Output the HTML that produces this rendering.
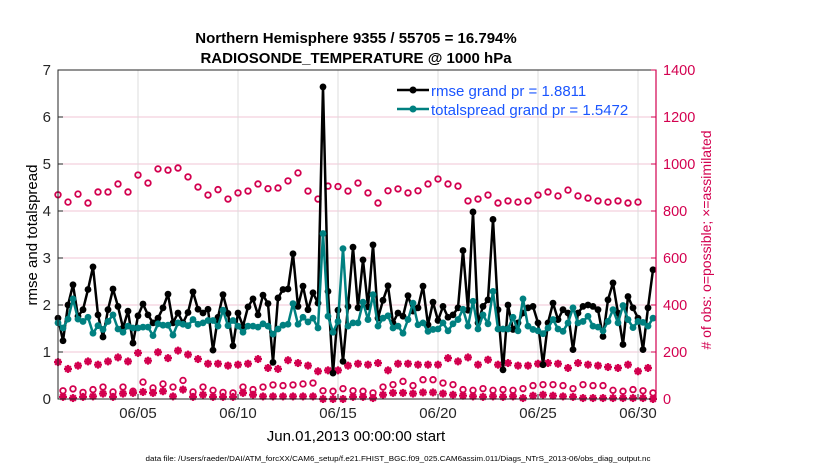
<!DOCTYPE html>
<html><head><meta charset="utf-8"><style>
body{margin:0;background:#fff;}
svg text{font-family:"Liberation Sans",Arial,sans-serif;}
</style></head><body>
<svg id="chart" width="830" height="470" viewBox="0 0 830 470" xmlns="http://www.w3.org/2000/svg">
<rect width="830" height="470" fill="#fff"/>
<g id="grid"></g>
<g id="series"></g>
<g id="axes"></g>
<text x="356" y="43" text-anchor="middle" font-size="15" font-weight="bold">Northern Hemisphere 9355 / 55705 = 16.794%</text>
<text x="356" y="63" text-anchor="middle" font-size="15" font-weight="bold">RADIOSONDE_TEMPERATURE @ 1000 hPa</text>
<text transform="translate(37,235) rotate(-90)" text-anchor="middle" font-size="15">rmse and totalspread</text>
<text transform="translate(711,240) rotate(-90)" text-anchor="middle" font-size="14" fill="#d3004f"># of obs: o=possible; ×=assimilated</text>
<text x="356" y="441" text-anchor="middle" font-size="15">Jun.01,2013 00:00:00 start</text>
<text x="398" y="461" text-anchor="middle" font-size="7.5" textLength="505" lengthAdjust="spacingAndGlyphs">data file: /Users/raeder/DAI/ATM_forcXX/CAM6_setup/f.e21.FHIST_BGC.f09_025.CAM6assim.011/Diags_NTrS_2013-06/obs_diag_output.nc</text>
<g>
<line x1="397" y1="90" x2="429" y2="90" stroke="#000" stroke-width="2.5"/><circle cx="413" cy="90" r="3.5" fill="#000"/>
<text x="431" y="96" font-size="15" fill="#1a55ff">rmse grand pr = 1.8811</text>
<line x1="397" y1="109" x2="429" y2="109" stroke="#008080" stroke-width="2.5"/><circle cx="413" cy="109" r="3.5" fill="#008080"/>
<text x="431" y="115" font-size="15" fill="#1a55ff">totalspread grand pr = 1.5472</text>
</g>
</svg>
<script>
const rmse=[1.72,1.24,2.0,2.43,1.76,1.9,2.33,2.81,1.79,1.32,1.9,2.34,1.97,1.51,1.87,1.19,1.77,2.02,1.79,1.62,1.72,1.94,2.23,1.62,1.83,1.62,1.84,2.28,1.91,1.83,1.91,1.04,1.74,2.22,1.82,1.13,1.83,1.55,1.96,2.13,1.79,2.21,2.03,0.78,2.15,2.33,2.34,3.09,1.97,2.4,1.9,2.26,2.04,6.64,2.29,0.55,1.89,0.8,1.97,3.23,1.94,
2.96,1.96,3.28,1.72,2.1,2.41,1.62,1.83,1.76,2.2,1.87,1.94,2.4,1.58,2.06,1.67,1.97,1.74,1.79,1.94,3.16,1.89,3.98,1.62,1.97,2.11,3.82,1.9,
0.62,2.0,1.48,1.62,1.83,1.94,1.97,1.62,0.73,1.62,2.04,1.69,1.9,1.83,1.05,1.83,1.97,2.0,1.97,1.9,1.33,2.11,2.47,1.83,1.16,2.18,1.94,1.72,1.05,1.94,2.75];
const spread=[1.62,1.51,1.70,2.13,1.70,1.65,1.74,1.40,1.56,1.48,1.65,1.79,1.49,1.42,1.55,1.51,1.51,1.53,1.53,1.35,1.60,1.57,1.57,1.36,1.62,1.59,1.56,1.69,1.59,1.62,1.67,1.67,1.55,1.89,1.56,1.67,1.55,1.42,1.55,1.55,1.53,1.60,1.55,1.38,1.49,1.57,1.59,2.03,1.59,1.74,1.64,1.72,1.51,3.52,1.76,1.42,1.65,3.20,1.55,1.62,1.62,
2.06,1.69,2.22,1.55,1.72,1.77,1.51,1.55,1.40,1.69,2.04,1.58,1.62,1.44,1.48,1.49,1.62,1.45,1.60,1.69,1.91,1.55,2.08,1.49,1.79,1.60,2.29,1.49,1.49,1.49,1.74,1.45,2.13,1.55,1.48,1.45,1.39,1.51,1.69,1.49,1.44,1.62,1.94,1.62,1.65,1.76,1.55,1.53,1.45,1.65,1.90,1.62,1.99,1.69,1.52,1.65,1.63,1.55,1.72];
const possibleEven=[869,838,872,834,881,881,915,881,953,919,979,974,983,945,902,868,891,851,877,885,915,895,898,928,962,885,851,906,904,885,919,
877,834,886,894,877,886,915,936,915,906,843,851,868,834,843,838,843,868,881,864,889,864,855,843,838,843,834,838];
const possibleOdd=[35,43,28,40,51,30,51,33,72,47,64,51,79,30,51,37,28,26,51,40,51,60,57,60,64,68,35,33,44,35,
33,26,51,61,75,57,82,82,68,61,40,37,44,37,40,37,44,57,61,61,57,44,61,57,57,37,33,40,35,26];
const assimEven=[157,128,142,160,146,160,177,160,196,163,199,174,206,189,170,150,150,142,146,150,170,132,128,165,153,142,118,122,122,142,150,
146,153,122,150,150,146,146,146,174,160,177,146,167,146,153,142,142,150,153,150,132,153,146,142,136,132,146,118,132];
const assimOdd=[9,4,9,11,23,9,23,26,30,26,33,11,40,9,18,9,9,9,26,18,11,11,11,11,11,11,0,0,0,9,
9,4,18,26,26,23,28,28,23,18,14,11,9,11,9,11,4,14,18,14,11,9,4,4,4,4,4,4,4,0];
const xTickDays=[5,10,15,20,25,30];
const xTickLabels=["06/05","06/10","06/15","06/20","06/25","06/30"];
const yLeftTicks=[0,1,2,3,4,5,6,7];
const yRightTicks=[0,200,400,600,800,1000,1200,1400];

const L=58,R=656,T=70,B=399;
const xOfT=t=>L+t*20;
const xOfI=i=>xOfT(i*0.25);
const yL=v=>B-(v/7)*(B-T);
const yR=c=>B-(c/1400)*(B-T);
const NS="http://www.w3.org/2000/svg";
function mk(tag,attrs,parent){const e=document.createElementNS(NS,tag);for(const k in attrs)e.setAttribute(k,attrs[k]);parent.appendChild(e);return e;}
const grid=document.getElementById('grid'),ser=document.getElementById('series'),ax=document.getElementById('axes');
const PINK="#d3004f";

yRightTicks.forEach(c=>{if(c>0&&c<1400){const g=mk('line',{x1:L,x2:R,y1:yR(c),y2:yR(c),stroke:'#f2c6d6','stroke-width':1},grid);

}});
xTickDays.forEach(d=>{const g=mk('line',{x1:xOfT(d-1),x2:xOfT(d-1),y1:T,y2:B,stroke:'#dcdcdc','stroke-width':1},grid);

});

function circ(i,c){const e=mk('circle',{cx:xOfI(i),cy:yR(c),r:2.8,fill:'none',stroke:PINK,'stroke-width':1.8},ser);

}
possibleEven.forEach((c,k)=>circ(2*k,c));
possibleOdd.forEach((c,k)=>circ(2*k+1,c));
function star(i,c){const x=xOfI(i),y=yR(c),s=4;const g=mk('g',{stroke:PINK,'stroke-width':2.2},ser);


mk('line',{x1:x-s,x2:x+s,y1:y,y2:y},g);mk('line',{x1:x,x2:x,y1:y-s,y2:y+s},g);
mk('line',{x1:x-s*0.7,x2:x+s*0.7,y1:y-s*0.7,y2:y+s*0.7},g);mk('line',{x1:x-s*0.7,x2:x+s*0.7,y1:y+s*0.7,y2:y-s*0.7},g);}
assimEven.forEach((c,k)=>star(2*k,c));
assimOdd.forEach((c,k)=>star(2*k+1,c));

function line(arr,color,name){const p=mk('polyline',{points:arr.map((v,i)=>xOfI(i)+','+yL(v)).join(' '),fill:'none',stroke:color,'stroke-width':2.5,'stroke-linejoin':'round'},ser);


arr.forEach((v,i)=>{const c=mk('circle',{cx:xOfI(i),cy:yL(v),r:3.4,fill:color},ser);

});}
line(rmse,'#000','rmse');
line(spread,'#008080','totalspread');

const fr=mk('rect',{x:L,y:T,width:R-L,height:B-T,fill:'none',stroke:'#262626','stroke-width':1},ax);


const ra=mk('line',{x1:R,x2:R,y1:T,y2:B,stroke:PINK,'stroke-width':1.2},ax);


yLeftTicks.forEach(v=>{mk('line',{x1:L,x2:L+5,y1:yL(v),y2:yL(v),stroke:'#262626'},ax);
const t=mk('text',{x:L-7,y:yL(v)+5,'text-anchor':'end','font-size':15,fill:'#262626'},ax);t.textContent=v;

});
yRightTicks.forEach(c=>{mk('line',{x1:R-5,x2:R,y1:yR(c),y2:yR(c),stroke:PINK},ax);
const t=mk('text',{x:R+7,y:yR(c)+5,'font-size':14.5,fill:PINK},ax);t.textContent=c;

});
xTickDays.forEach((d,k)=>{const x=xOfT(d-1);mk('line',{x1:x,x2:x,y1:B,y2:B-5,stroke:'#262626'},ax);
const t=mk('text',{x:x,y:B+19,'text-anchor':'middle','font-size':15,fill:'#262626'},ax);t.textContent=xTickLabels[k];

});
</script>
</body></html>
